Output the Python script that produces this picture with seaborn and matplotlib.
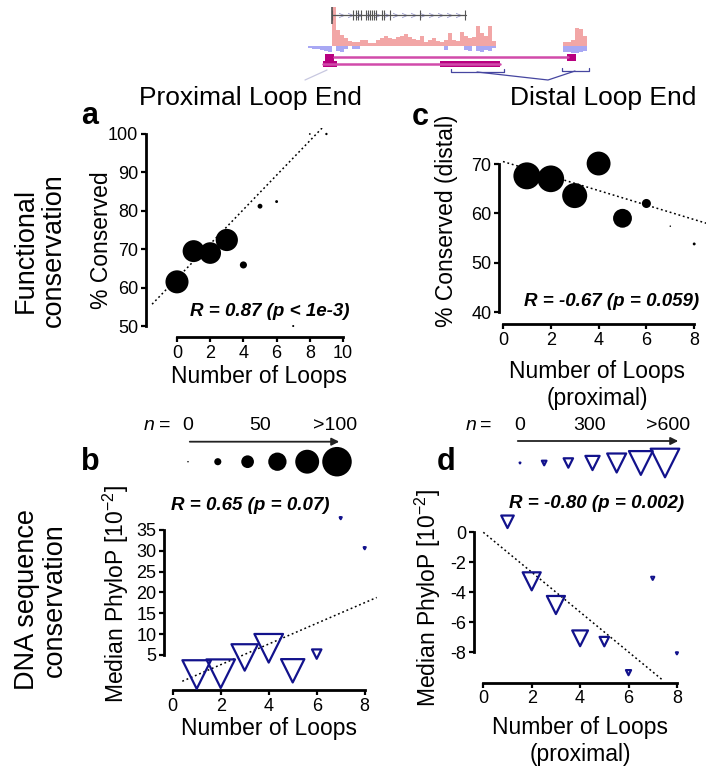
import numpy as np
import seaborn as sns
import matplotlib.pyplot as plt

# ---- panel a : proximal loop end, functional conservation ----
loops_a = [0, 1, 2, 3, 4, 5, 6, 7, 8, 9]
cons_a = [61.5, 69.5, 69.0, 72.4, 65.9, 81.2, 82.4, 50.0, 100.0, 100.0]
n_a = [77, 73, 72, 74, 20, 12, 5, 2, 1, 3]
fit_a = (62.4, 4.48)          # intercept, slope of dotted line
fit_a_x = [-1.5, 8.8]

# ---- panel c : distal loop end, functional conservation ----
loops_c = [1, 2, 3, 4, 5, 6, 7, 8]
cons_c = [67.6, 67.0, 63.6, 70.1, 59.0, 62.0, 57.4, 53.8]
n_c = [91, 90, 84, 80, 62, 27, 0, 5]
fit_c = (70.5, -1.47)
fit_c_x = [0, 8.5]

# ---- panel b : proximal, DNA sequence conservation ----
loops_b = [1, 2, 3, 4, 5, 6, 7, 8]
phylop_b = [0.3, 0.5, 4.4, 6.6, 1.2, 5.2, 37.8, 30.6]
n_b = [600, 601, 555, 602, 490, 200, 45, 46]
fit_b = (-2.3, 2.48)
fit_b_x = [0.4, 8.5]

# ---- panel d : distal, DNA sequence conservation ----
loops_d = [1, 2, 3, 4, 5, 6, 7, 8]
phylop_d = [0.7, -3.27, -4.85, -7.07, -7.29, -9.36, -3.07, -8.07]
n_d = [265, 380, 381, 333, 200, 110, 67, 45]
fit_d = (0.0, -1.33)
fit_d_x = [0, 7.4]

legend_circ_n = [0, 20, 40, 60, 80, 100]
legend_tri_n = [0, 100, 200, 300, 400, 500, 600]

# genome browser snippet (heights in px)
pink_h = [39, 16, 11, 8, 5, 4, 4, 6, 6, 3, 3, 6, 8, 10, 8, 7, 9, 10, 12, 9, 7,
          6, 10, 4, 6, 8, 5, 4, 6, 13, 6, 5, 14, 10, 8, 9, 20, 13, 10, 20, 5]
blue_d = [2, 3, 3, 4, 5, 6, 0, 5, 6, 3, 0, 3, 3, 0, 0, 0, 0, 0, 0, 0, 0, 0, 0, 0,
          0, 0, 0, 0, 0, 0, 0, 0, 0, 0, 4, 0, 0, 0, 0, 4, 5, 0, 5, 6, 4, 5, 2]
pink2_h = [4, 4, 6, 18, 17, 10]
blue2_d = [6, 6, 7, 7, 6, 5]
exon_x = [332, 353, 356, 358, 361, 366, 368, 370, 372, 374, 376, 382, 384, 390, 420, 465]

W, H = 706, 769
NAVY = "#12128c"

sns.set_style("ticks")
plt.rcParams["font.family"] = ["Liberation Sans", "DejaVu Sans"]
plt.rcParams["mathtext.default"] = "regular"
plt.rcParams["axes.unicode_minus"] = False
for k in ["text.color", "axes.labelcolor", "xtick.color", "ytick.color", "axes.edgecolor"]:
    plt.rcParams[k] = "black"

fig = plt.figure(figsize=(W / 100, H / 100), dpi=100)


def px_axes(l, t, r, b):
    return fig.add_axes([l / W, 1 - b / H, (r - l) / W, (b - t) / H])


def ftext(x, y, s, **kw):
    kw.setdefault("ha", "center")
    kw.setdefault("va", "center")
    fig.text(x / W, 1 - y / H, s, **kw)


def circ_area(n):
    return ((1.5 + 0.28 * min(n, 100)) * 0.72) ** 2


def tri_area(n):
    return (max(3 + 0.048 * min(n, 600) - 3.2, 0.8) * 0.72) ** 2


def style(ax, xlim, ylim, xt, yt):
    ax.set_xlim(xlim)
    ax.set_ylim(ylim)
    ax.set_xticks(xt)
    ax.set_yticks(yt)
    ax.spines[["top", "right"]].set_visible(False)
    ax.spines["left"].set_bounds(yt[0], yt[-1])
    ax.spines["bottom"].set_bounds(xt[0], xt[-1])
    for s in ["left", "bottom"]:
        ax.spines[s].set_linewidth(2)
    ax.tick_params(width=1.6, length=3.5, labelsize=13, pad=2, color="black")
    ax.patch.set_visible(False)
    ax.set_xlabel("")
    ax.set_ylabel("")


def fit_line(ax, fit, xs):
    ys = [fit[0] + fit[1] * x for x in xs]
    sns.lineplot(x=xs, y=ys, ax=ax, color="black", lw=1.1,
                 linestyle=(0, (1.2, 1.8)), zorder=1)


def bubbles(ax, x, y, n):
    sns.scatterplot(x=x, y=y, size=n, sizes={v: circ_area(v) for v in set(n)},
                    color="black", linewidth=0, legend=False, ax=ax,
                    clip_on=False, zorder=3)


def triangles(ax, x, y, n):
    sns.scatterplot(x=x, y=y, size=n, sizes={v: tri_area(v) for v in set(n)},
                    marker="v", facecolor="none", edgecolor=NAVY, linewidth=1.6,
                    legend=False, ax=ax, clip_on=False, zorder=3)


# overlay in figure pixels for the browser snippet and size legends
ov = fig.add_axes([0, 0, 1, 1])
ov.set_xlim(0, W)
ov.set_ylim(H, 0)
ov.axis("off")

base = 46
ov.bar(332 + 4 * np.arange(len(pink_h)), pink_h, width=4, bottom=base - np.array(pink_h),
       align="edge", color="#f2a6a6", linewidth=0)
ov.bar(308 + 4 * np.arange(len(blue_d)), blue_d, width=4, bottom=base,
       align="edge", color="#a8a8f4", linewidth=0)
ov.bar(563 + 4 * np.arange(len(pink2_h)), pink2_h, width=4, bottom=base - np.array(pink2_h),
       align="edge", color="#f2a6a6", linewidth=0)
ov.bar(563 + 4 * np.arange(len(blue2_d)), blue2_d, width=4, bottom=base,
       align="edge", color="#a8a8f4", linewidth=0)
ov.plot([332, 466], [15, 15], color="#555555", lw=0.9)
ov.vlines(exon_x, 10, 20, color="#555555", lw=0.8)
ov.vlines([332], 7, 24, color="#555555", lw=1.2)
chev_x = np.arange(341, 462, 9)
ov.scatter(chev_x, [15] * len(chev_x), marker="$>$", s=14, color="#8f8fc8", linewidths=0)
ov.plot([334, 568], [57, 57], color="#d14aaa", lw=1.8)
ov.plot([323, 500], [64, 64], color="#d14aaa", lw=1.8)
for x0, x1, y0, y1 in [(325, 334, 53.5, 60.5), (567, 576, 53.5, 60.5),
                       (323, 337, 61, 67), (440, 500, 61, 67)]:
    ov.fill_between([x0, x1], y0, y1, color="#b8007f", linewidth=0)
ov.plot([451, 451, 504, 504], [69, 72, 72, 69], color="#4646a0", lw=0.9)
ov.plot([562, 562, 589, 589], [68, 71, 71, 68], color="#4646a0", lw=0.9)
ov.plot([477, 548, 575], [72, 80, 71], color="#4646a0", lw=0.9)
ov.plot([327, 305], [70, 80], color="#c8c8e0", lw=0.9)

# size legends
sns.scatterplot(x=np.linspace(188, 337, 6), y=[461.7] * 6, size=legend_circ_n,
                sizes={v: circ_area(v) for v in legend_circ_n}, color="black",
                linewidth=0, legend=False, ax=ov)
sns.scatterplot(x=np.linspace(520, 665, 7), y=[463] * 7, size=legend_tri_n,
                sizes={v: tri_area(v) for v in legend_tri_n}, marker="v",
                facecolor="none", edgecolor=NAVY, linewidth=1.6, legend=False, ax=ov)
ov.set_xlim(0, W)
ov.set_ylim(H, 0)
ov.annotate("", xy=(342, 441.7), xytext=(187, 441.7),
            arrowprops=dict(arrowstyle="-|>", lw=1.3, color="#222222", mutation_scale=11))
ov.annotate("", xy=(681, 441), xytext=(515, 441),
            arrowprops=dict(arrowstyle="-|>", lw=1.3, color="#222222", mutation_scale=11))

# panel a
ax_a = px_axes(146, 128, 346, 337)
fit_line(ax_a, fit_a, fit_a_x)
bubbles(ax_a, loops_a, cons_a, n_a)
style(ax_a, (-1.867, 10.18), (47.14, 101.56), [0, 2, 4, 6, 8, 10], [50, 60, 70, 80, 90, 100])

# panel c
ax_c = px_axes(499, 158, 706, 324)
fit_line(ax_c, fit_c, fit_c_x)
bubbles(ax_c, loops_c, cons_c, n_c)
style(ax_c, (-0.167, 8.494), (37.57, 71.22), [0, 2, 4, 6, 8], [40, 50, 60, 70])

# panel b
ax_b = px_axes(164, 515, 378, 690)
fit_line(ax_b, fit_b, fit_b_x)
triangles(ax_b, loops_b, phylop_b, n_b)
style(ax_b, (-0.3625, 8.554), (-3.405, 38.56), [0, 2, 4, 6, 8], [5, 10, 15, 20, 25, 30, 35])

# panel d
ax_d = px_axes(474, 514, 682, 682.7)
fit_line(ax_d, fit_d, fit_d_x)
triangles(ax_d, loops_d, phylop_d, n_d)
style(ax_d, (-0.384, 8.21), (-10.03, 1.22), [0, 2, 4, 6, 8], [-8, -6, -4, -2, 0])

# texts
ftext(250, 98, "Proximal Loop End", fontsize=19)
ftext(603, 98, "Distal Loop End", fontsize=19)
ftext(40, 250, "Functional\nconservation", fontsize=19.5, rotation=90, linespacing=1.1)
ftext(41, 600, "DNA sequence\nconservation", fontsize=19.5, rotation=90, linespacing=1.1)
for x, y, s in [(90, 116, "a"), (420, 117, "c"), (90, 462, "b"), (446, 462, "d")]:
    ftext(x, y, s, fontsize=22, fontweight="bold")

ftext(101, 240, "% Conserved", fontsize=16.5, rotation=90)
ftext(447, 221, "% Conserved (distal)", fontsize=16.5, rotation=90)
ftext(116, 594, "Median PhyloP [10$^{-2}$]", fontsize=16.5, rotation=90)
ftext(428, 598, "Median PhyloP [10$^{-2}$]", fontsize=16.5, rotation=90)
ftext(259, 376, "Number of Loops", fontsize=16.5)
ftext(597, 385, "Number of Loops\n(proximal)", fontsize=16.5)
ftext(269, 729, "Number of Loops", fontsize=16.5)
ftext(580, 741, "Number of Loops\n(proximal)", fontsize=16.5)

rkw = dict(fontsize=13.5, fontweight="bold", style="italic")
ftext(270, 311, "R = 0.87 (p < 1e-3)", **rkw)
ftext(612, 302, "R = -0.67 (p = 0.059)", **rkw)
ftext(250, 505, "R = 0.65 (p = 0.07)", **rkw)
ftext(597, 503, "R = -0.80 (p = 0.002)", **rkw)

ftext(149, 425, "n", fontsize=14, style="italic")
ftext(165, 425, "=", fontsize=14)
ftext(188, 425, "0", fontsize=14)
ftext(260, 425, "50", fontsize=14)
ftext(335, 425, ">100", fontsize=14)
ftext(471, 425, "n", fontsize=14, style="italic")
ftext(486, 425, "=", fontsize=14)
ftext(520, 425, "0", fontsize=14)
ftext(590, 425, "300", fontsize=14)
ftext(668, 425, ">600", fontsize=14)

fig.savefig("out.png", dpi=100)
